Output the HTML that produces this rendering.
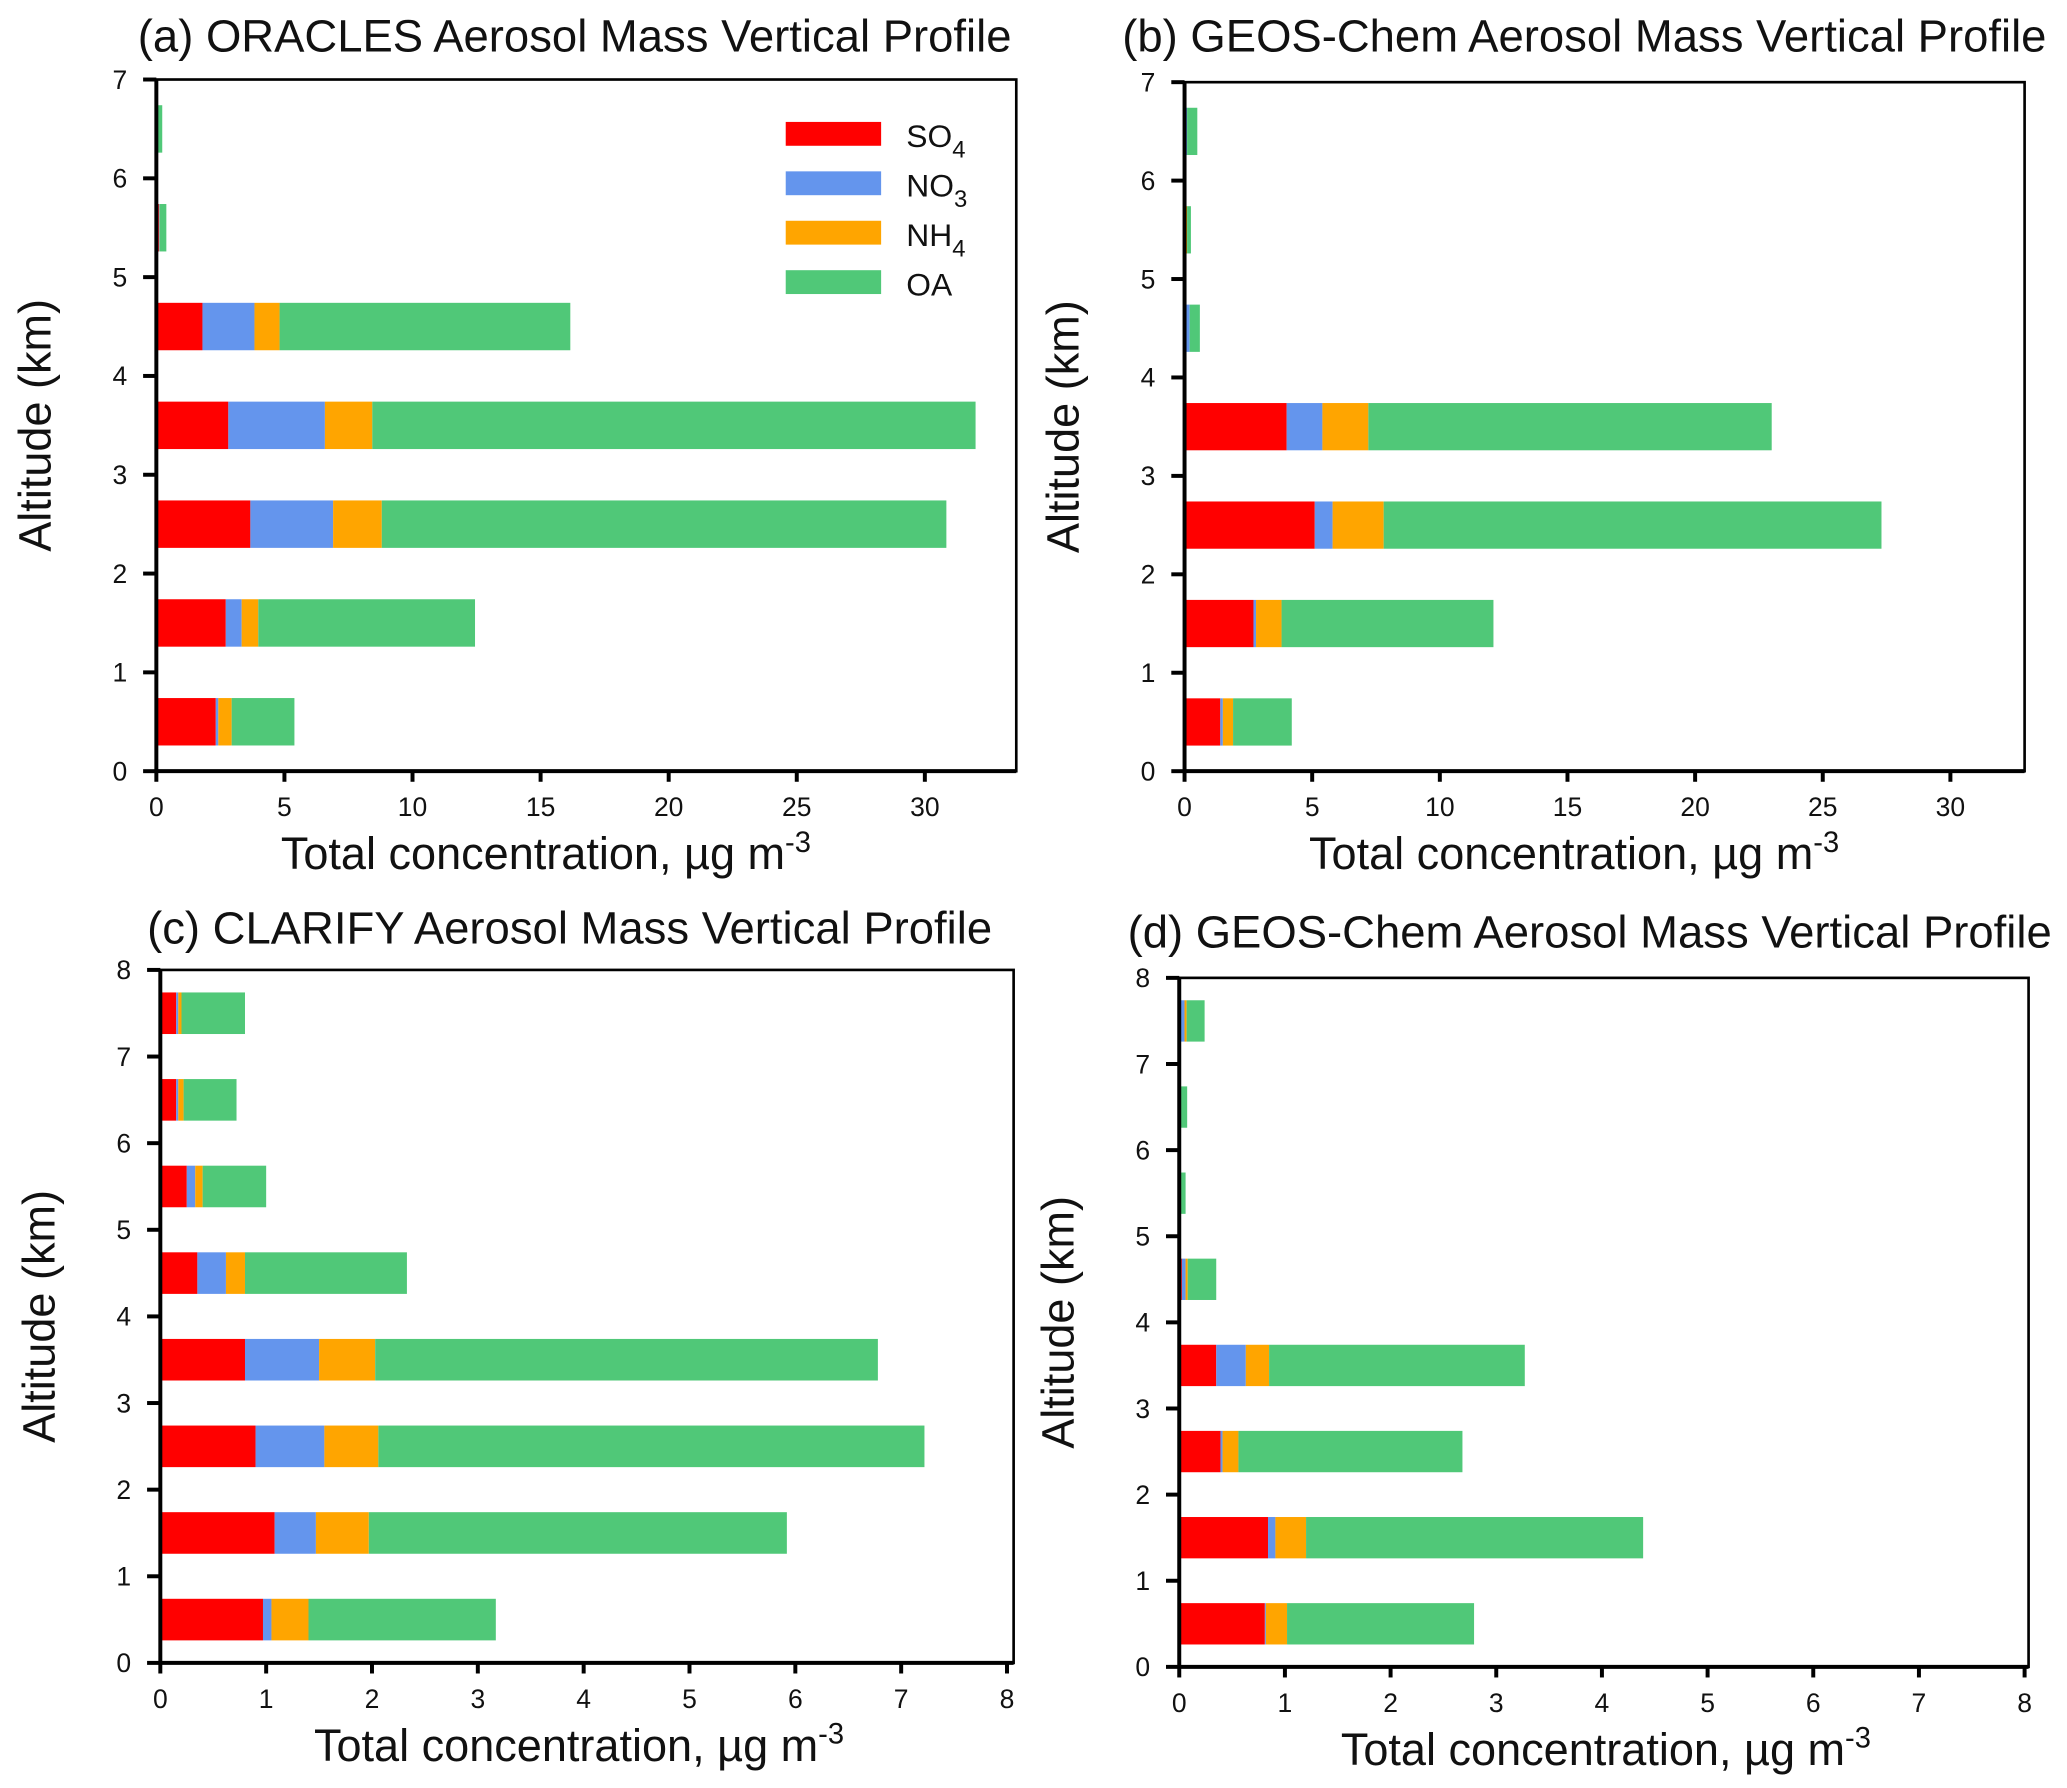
<!DOCTYPE html>
<html><head><meta charset="utf-8"><style>
html,body{margin:0;padding:0;background:#fff;}
svg{display:block;}
text{font-family:"Liberation Sans",Arial,sans-serif;fill:#111;}
</style></head><body>
<svg id="fig" width="2067" height="1788" viewBox="0 0 1560 1349.4" xmlns="http://www.w3.org/2000/svg"></svg>
<script>
const species = ["SO4","NO3","NH4","OA"];
const colors = ["#ff0000","#6495ed","#ffa500","#50c878"];
// cumulative stacked ends per altitude bin (0.5,1.5,...)
const altitudesA = [0.5,1.5,2.5,3.5,4.5,5.5,6.5];
const cumA = [[2.32,2.42,2.94,5.39],[2.71,3.33,3.98,12.44],[3.67,6.9,8.8,30.84],[2.81,6.58,8.43,31.98],[1.8,3.83,4.81,16.16],[0.1,0.12,0.13,0.39],[0,0,0,0.23]];
const altitudesB = [0.5,1.5,2.5,3.5,4.5,5.5,6.5];
const cumB = [[1.4,1.5,1.9,4.2],[2.7,2.8,3.8,12.1],[5.1,5.8,7.8,27.3],[4.0,5.4,7.2,23.0],[0,0.2,0.2,0.6],[0,0,0.1,0.25],[0,0.1,0.1,0.5]];
const altitudesC = [0.5,1.5,2.5,3.5,4.5,5.5,6.5,7.5];
const cumC = [[0.97,1.05,1.4,3.17],[1.08,1.47,1.97,5.92],[0.9,1.55,2.06,7.22],[0.8,1.5,2.03,6.78],[0.35,0.62,0.8,2.33],[0.25,0.33,0.4,1.0],[0.15,0.17,0.22,0.72],[0.15,0.17,0.2,0.8]];
const altitudesD = [0.5,1.5,2.5,3.5,4.5,5.5,6.5,7.5];
const cumD = [[0.81,0.82,1.02,2.79],[0.84,0.91,1.2,4.39],[0.39,0.41,0.56,2.68],[0.35,0.63,0.85,3.27],[0.025,0.06,0.08,0.35],[0,0,0.01,0.06],[0,0,0.01,0.075],[0,0.05,0.07,0.24]];
const xTicksAB = [0,5,10,15,20,25,30];
const xTicksCD = [0,1,2,3,4,5,6,7,8];
const yTicksAB = [0,1,2,3,4,5,6,7];
const yTicksCD = [0,1,2,3,4,5,6,7,8];

const NS="http://www.w3.org/2000/svg";
const svg=document.getElementById('fig');
function mk(tag,attrs,parent){const e=document.createElementNS(NS,tag);for(const k in attrs)e.setAttribute(k,attrs[k]);(parent||svg).appendChild(e);return e;}

const panels=[
 {id:'a',title:'(a) ORACLES Aerosol Mass Vertical Profile',tx:104,ty:39,L:118,R:767,T:60,B:582,x1v:30,x1p:698,ymax:7,alts:altitudesA,cum:cumA,xt:xTicksAB,yt:yTicksAB,legend:true,xlc:412},
 {id:'b',title:'(b) GEOS-Chem Aerosol Mass Vertical Profile',tx:847,ty:39,L:894,R:1528,T:62,B:582,x1v:30,x1p:1472,ymax:7,alts:altitudesB,cum:cumB,xt:xTicksAB,yt:yTicksAB,xlc:1188},
 {id:'c',title:'(c) CLARIFY Aerosol Mass Vertical Profile',tx:111,ty:712,L:121,R:765,T:732,B:1255,x1v:8,x1p:760,ymax:8,alts:altitudesC,cum:cumC,xt:xTicksCD,yt:yTicksCD,xlc:437},
 {id:'d',title:'(d) GEOS-Chem Aerosol Mass Vertical Profile',tx:851,ty:715,L:890,R:1531,T:738,B:1258,x1v:8,x1p:1528,ymax:8,alts:altitudesD,cum:cumD,xt:xTicksCD,yt:yTicksCD,xlc:1212}
];

panels.forEach(p=>{
 const g=mk('g',{});
 
 
 const xs=v=>p.L+(p.x1p-p.L)*v/p.x1v;
 const ys=v=>p.B-(p.B-p.T)*v/p.ymax;
 const t=mk('text',{x:p.tx,y:p.ty,'font-size':34.3},g);t.textContent=p.title;
 
 
 p.alts.forEach((a,i)=>{
  let prev=0;
  p.cum[i].forEach((c,j)=>{
   if(c-prev>0){
    const r=mk('rect',{x:xs(prev),y:ys(a+0.24),width:xs(c)-xs(prev),height:ys(a-0.24)-ys(a+0.24),fill:colors[j]},g);
    
    
   }
   prev=Math.max(prev,c);
  });
 });
 const f=mk('rect',{x:p.L,y:ys(p.ymax),width:p.R-p.L,height:p.B-ys(p.ymax),fill:'none',stroke:'#000','stroke-width':2},g);
 
 
 mk('line',{x1:p.L,y1:ys(p.ymax),x2:p.L,y2:p.B,stroke:'#000','stroke-width':3},g);
 mk('line',{x1:p.L,y1:p.B,x2:p.R,y2:p.B,stroke:'#000','stroke-width':3},g);
 p.yt.forEach(v=>{
  mk('line',{x1:p.L-10,y1:ys(v),x2:p.L,y2:ys(v),stroke:'#000','stroke-width':3},g);
  const tl=mk('text',{x:p.L-22,y:ys(v)+7,'font-size':20,'text-anchor':'end'},g);tl.textContent=v;
  
  
 });
 p.xt.forEach(v=>{
  mk('line',{x1:xs(v),y1:p.B,x2:xs(v),y2:p.B+8,stroke:'#000','stroke-width':3},g);
  const tl=mk('text',{x:xs(v),y:p.B+34,'font-size':20,'text-anchor':'middle'},g);tl.textContent=v;
  
  
 });
 const xl=mk('text',{x:p.xlc,y:p.B+74,'font-size':34,'text-anchor':'middle'},g);
 xl.innerHTML='Total concentration, µg m<tspan dy="-13" font-size="22">-3</tspan>';
 
 
 const yc=(p.T+p.B)/2;
 const yl=mk('text',{x:0,y:0,'font-size':34,'text-anchor':'middle',transform:`translate(${p.L-80},${yc}) rotate(-90)`},g);
 yl.textContent='Altitude (km)';
 
 
 if(p.legend){
  const lg=mk('g',{},g);
  
  
  const subs=['4','3','4',''];const bases=['SO','NO','NH','OA'];
  species.forEach((s,j)=>{
   const y=92+j*37.3;
   const r=mk('rect',{x:593,y:y,width:72,height:18,fill:colors[j]},lg);
   
   
   const tx=mk('text',{x:684,y:y+19,'font-size':24},lg);
   tx.innerHTML=bases[j]+(subs[j]?'<tspan dy="8" font-size="18">'+subs[j]+'</tspan>':'');
   
   
  });
 }
});
</script>
</body></html>
